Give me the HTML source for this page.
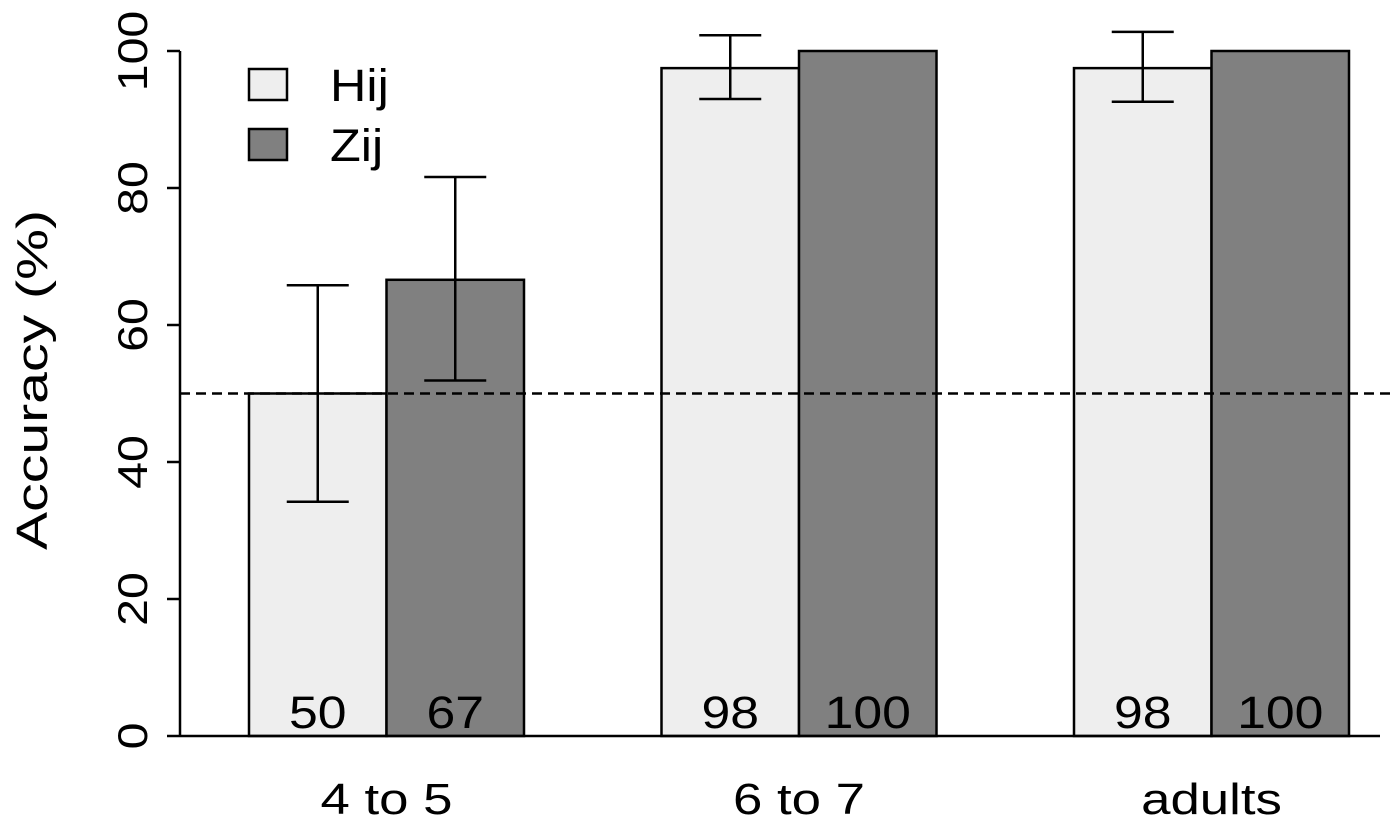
<!DOCTYPE html>
<html><head><meta charset="utf-8"><style>
body{margin:0;background:#fff}
svg text{font-family:"Liberation Sans",Arial,sans-serif;fill:#000}
</style></head><body>
<svg id="chart" width="1400" height="830" xmlns="http://www.w3.org/2000/svg">
<g id="axes"></g><g id="bars"></g><g id="legend"></g>
</svg>
<script>
const categories = ["4 to 5", "6 to 7", "adults"];
const series = ["Hij", "Zij"];
const hijValues = [50, 97.5, 97.5];
const zijValues = [66.6, 100, 100];
const hijLow = [34.2, 93, 92.6];
const hijHigh = [65.8, 102.3, 102.8];
const zijLow = [51.9, null, null];
const zijHigh = [81.6, null, null];
const hijLabels = ["50", "98", "98"];
const zijLabels = ["67", "100", "100"];
const yTicks = [0, 20, 40, 60, 80, 100];
const colors = ["#eeeeee", "#808080"];

const NS = "http://www.w3.org/2000/svg";
const y = v => 736 - v * 6.85;
const groupX = i => 249 + i * 412.5;
const barW = 137.5;
function mk(tag, attrs, parent, text) {
  const e = document.createElementNS(NS, tag);
  for (const k in attrs) e.setAttribute(k, attrs[k]);
  if (text !== undefined) e.textContent = text;
  parent.appendChild(e);
  return e;
}
const axes = document.getElementById("axes");
const bars = document.getElementById("bars");
const legend = document.getElementById("legend");

const ya = mk("line", {x1:180, x2:180, y1:y(100), y2:y(0), stroke:"#000", "stroke-width":2.5}, axes);


yTicks.forEach(t => {
  const tk = mk("line", {x1:167, x2:180, y1:y(t), y2:y(t), stroke:"#000", "stroke-width":2.5}, axes);
  
  
  const lb = mk("text", {x:0, y:0, "font-size":42, "text-anchor":"middle", transform:`translate(147,${y(t)}) rotate(-90) scale(1.15,1)`}, axes, String(t));
  
  
});
const yt = mk("text", {x:0, y:0, "font-size":44, "text-anchor":"middle", transform:"translate(47,380) rotate(-90) scale(1.3,1)"}, axes, "Accuracy (%)");



function errBar(cx, lo, hi) {
  const g = mk("g", {stroke:"#000", "stroke-width":2.5}, bars);
  
  
  mk("line", {x1:cx, x2:cx, y1:y(lo), y2:y(hi)}, g);
  mk("line", {x1:cx-31, x2:cx+31, y1:y(lo), y2:y(lo)}, g);
  mk("line", {x1:cx-31, x2:cx+31, y1:y(hi), y2:y(hi)}, g);
}
categories.forEach((c, i) => {
  const x0 = groupX(i);
  const vals = [hijValues[i], zijValues[i]];
  const labs = [hijLabels[i], zijLabels[i]];
  vals.forEach((v, s) => {
    const r = mk("rect", {x:x0 + s*barW, y:y(v), width:barW, height:y(0)-y(v), fill:colors[s], stroke:"#000", "stroke-width":2.5}, bars);
    
    
  });
  vals.forEach((v, s) => {
    const t = mk("text", {x:0, y:0, "font-size":45, "text-anchor":"middle", transform:`translate(${x0 + s*barW + barW/2},728) scale(1.15,1)`}, bars, labs[s]);
    
    
  });
  if (hijLow[i] !== null) errBar(x0 + barW/2, hijLow[i], hijHigh[i]);
  if (zijLow[i] !== null) errBar(x0 + barW*1.5, zijLow[i], zijHigh[i]);
  const xl = mk("text", {x:0, y:0, "font-size":44, "text-anchor":"middle", transform:`translate(${x0 + barW},814) scale(1.2,1)`}, axes, c);
  
  
});
const base = mk("line", {x1:180, x2:1380, y1:y(0), y2:y(0), stroke:"#000", "stroke-width":2.5}, bars);


const ch = mk("line", {x1:180, x2:1392, y1:y(50), y2:y(50), stroke:"#000", "stroke-width":2.5, "stroke-dasharray":"10 6"}, bars);



series.forEach((s, k) => {
  const r = mk("rect", {x:249, y:69 + k*60, width:38, height:31, fill:colors[k], stroke:"#000", "stroke-width":2.5}, legend);
  
  
  const t = mk("text", {x:0, y:0, "font-size":45, transform:`translate(330,${101 + k*60}) scale(1.12,1)`}, legend, s);
  
  
});
</script>
</body></html>
